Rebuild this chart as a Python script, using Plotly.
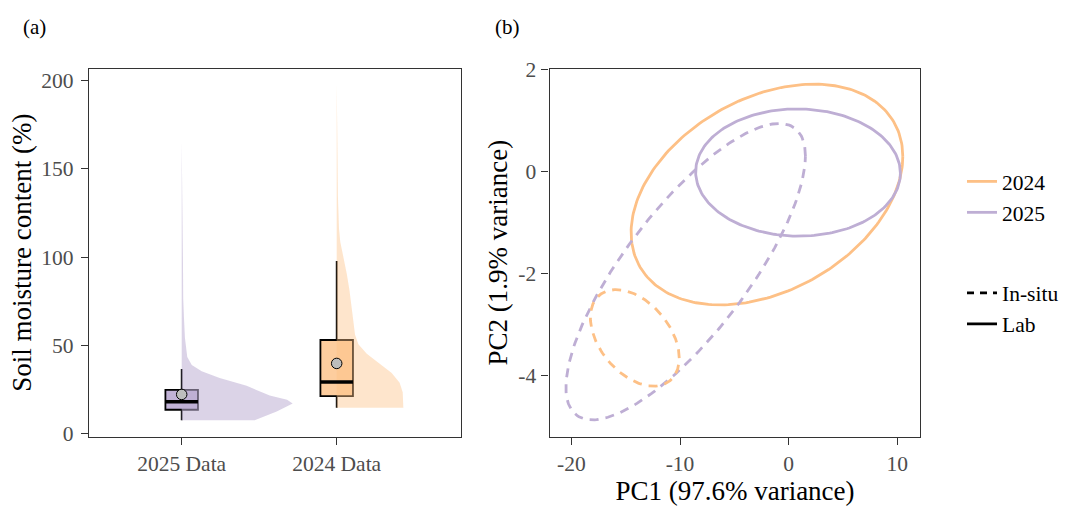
import numpy as np
import plotly.graph_objects as go

# ---------------- Panel (a): soil moisture raincloud ----------------
groups = ["2025 Data", "2024 Data"]
group_pos = [1, 2]
box_fill = ["rgba(190,174,212,0.95)", "rgba(253,192,134,0.8)"]
violin_fill = ["rgba(190,174,212,0.55)", "rgba(253,192,134,0.42)"]
box_q1 = [13.3, 21.1]
box_median = [17.8, 29.0]
box_q3 = [24.6, 52.9]
whisker_low = [7.3, 14.5]
whisker_high = [36.5, 97.8]
group_mean = [22.0, 39.6]

# half-violin outlines (moisture value, half width in x-axis units)
violin25_y = [7.3, 12.3, 15.0, 16.9, 19.0, 21.4, 26.9, 31.4, 35.1, 38.7, 43.3, 54, 65, 76, 100, 130, 166]
violin25_w = [0.471, 0.613, 0.68, 0.716, 0.68, 0.568, 0.419, 0.245, 0.129, 0.065, 0.036, 0.021, 0.015, 0.010, 0.008, 0.005, 0.002]
violin24_y = [14.5, 23.2, 28.7, 34.2, 39.6, 45.1, 50.5, 56, 63.3, 72.3, 81.4, 90.5, 99.6, 108.7, 116, 134, 170, 198.7]
violin24_w = [0.430, 0.426, 0.406, 0.355, 0.277, 0.194, 0.140, 0.118, 0.108, 0.097, 0.082, 0.065, 0.043, 0.023, 0.015, 0.008, 0.004, 0.001]

a_yticks = [0, 50, 100, 150, 200]

# ---------------- Panel (b): PCA confidence ellipses ----------------
ellipse_year = ["2024", "2025", "2025", "2024"]
ellipse_method = ["Lab", "Lab", "In-situ", "In-situ"]
ellipse_cx = [-2.0, 0.86, -9.48, -14.16]
ellipse_cy = [-0.45, -0.02, -1.96, -3.255]
ellipse_sx = [12.5, 9.42, 11.02, 4.09]
ellipse_sy = [2.16, 1.245, 2.9, 0.945]
ellipse_rho = [0.345, -0.01, 0.78, -0.42]

year_colors = {"2024": "#fdc086", "2025": "#beaed4"}
method_dash = {"In-situ": "9px,7px", "Lab": "solid"}

b_xticks = [-20, -10, 0, 10]
b_xticklabels = ["-20", "-10", "0", "10"]
b_yticks = [-4, -2, 0, 2]
b_yticklabels = ["-4", "-2", "0", "2"]

FONT = "Liberation Serif"
W, H = 1070, 513
TICK_SIZE = 21.5
TITLE_SIZE = 27

fig = go.Figure()

# violins
violins = [(violin25_y, violin25_w), (violin24_y, violin24_w)]
for i, (vy, vw) in enumerate(violins):
    p = group_pos[i]
    xs = [p] + [p + w for w in vw] + [p]
    ys = [vy[0]] + list(vy) + [vy[-1]]
    fig.add_trace(go.Scatter(x=xs, y=ys, mode="lines", fill="toself",
                             fillcolor=violin_fill[i], line=dict(width=0),
                             hoverinfo="skip", showlegend=False,
                             xaxis="x", yaxis="y"))

box_width = 0.21
for i in range(2):
    fig.add_trace(go.Box(x=[group_pos[i]], q1=[box_q1[i]], median=[box_median[i]],
                         q3=[box_q3[i]], lowerfence=[whisker_low[i]],
                         upperfence=[whisker_high[i]], width=box_width,
                         whiskerwidth=0, fillcolor=box_fill[i],
                         line=dict(color="black", width=1.8),
                         boxpoints=False, showlegend=False, name=groups[i],
                         xaxis="x", yaxis="y"))
    fig.add_trace(go.Scatter(x=[group_pos[i] - box_width / 2, group_pos[i] + box_width / 2],
                             y=[box_median[i], box_median[i]], mode="lines",
                             line=dict(color="black", width=3.5), showlegend=False,
                             hoverinfo="skip", xaxis="x", yaxis="y"))
fig.add_trace(go.Scatter(x=group_pos, y=group_mean, mode="markers",
                         marker=dict(size=10.5, color="#bdbdbd", line=dict(color="black", width=1)),
                         showlegend=False, xaxis="x", yaxis="y"))

# ellipses
t = np.linspace(0, 2 * np.pi, 241)
for i in range(len(ellipse_cx)):
    d = np.arccos(ellipse_rho[i])
    ex = ellipse_cx[i] + ellipse_sx[i] * np.cos(t)
    ey = ellipse_cy[i] + ellipse_sy[i] * np.cos(t - d)
    fig.add_trace(go.Scatter(x=ex, y=ey, mode="lines",
                             line=dict(color=year_colors[ellipse_year[i]], width=2.8,
                                       dash=method_dash[ellipse_method[i]]),
                             showlegend=False, xaxis="x2", yaxis="y2",
                             name=f"{ellipse_year[i]} {ellipse_method[i]}"))

# legend entries
for yr in ["2024", "2025"]:
    fig.add_trace(go.Scatter(x=[None], y=[None], mode="lines", name=yr,
                             line=dict(color=year_colors[yr], width=2.8),
                             legend="legend", xaxis="x2", yaxis="y2"))
for m in ["In-situ", "Lab"]:
    fig.add_trace(go.Scatter(x=[None], y=[None], mode="lines", name=m,
                             line=dict(color="black", width=2.8,
                                       dash="7px,6px" if m == "In-situ" else "solid"),
                             legend="legend2", xaxis="x2", yaxis="y2"))

ydom = [1 - 443 / H, 1 - 60 / H]
axis_common = dict(showline=True, mirror=True, linecolor="#333333", linewidth=1.3,
                   ticks="outside", ticklen=7, tickwidth=1.4, tickcolor="#333333",
                   showgrid=False, zeroline=False,
                   tickfont=dict(family=FONT, size=TICK_SIZE, color="#4d4d4d"))
title_font = dict(family=FONT, size=TITLE_SIZE, color="black")

fig.update_layout(
    width=W, height=H, margin=dict(l=0, r=0, t=0, b=0),
    paper_bgcolor="white", plot_bgcolor="white",
    font=dict(family=FONT, size=20, color="black"),
    xaxis=dict(domain=[89 / W, 461 / W], range=[0.402, 2.802], tickvals=group_pos,
               ticktext=groups, anchor="y", **axis_common),
    yaxis=dict(domain=ydom, range=[-2.0, 206.9], tickvals=a_yticks, anchor="x",
               ticklabelstandoff=3,
               title=dict(text="Soil moisture content (%)", font=title_font, standoff=1),
               **axis_common),
    xaxis2=dict(domain=[549.6 / W, 920.4 / W], range=[-22.0, 12.12], tickvals=b_xticks,
                ticktext=b_xticklabels, anchor="y2",
                title=dict(text="PC1 (97.6% variance)", font=title_font, standoff=0),
                **axis_common),
    yaxis2=dict(domain=ydom, range=[-5.19, 2.013], tickvals=b_yticks, ticktext=b_yticklabels,
                anchor="x2", ticklabelstandoff=1,
                title=dict(text="PC2 (1.9% variance)", font=title_font, standoff=2),
                **axis_common),
    legend=dict(x=962 / W, y=1 - 156 / H, xanchor="left", yanchor="top",
                font=dict(family=FONT, size=TICK_SIZE, color="black"), bgcolor="rgba(0,0,0,0)"),
    legend2=dict(x=962 / W, y=1 - 272 / H, xanchor="left", yanchor="top",
                 font=dict(family=FONT, size=TICK_SIZE, color="black"), bgcolor="rgba(0,0,0,0)"),
    annotations=[
        dict(text="(a)", x=34 / W, y=1 - 17 / H, xref="paper", yref="paper",
             xanchor="center", yanchor="middle",
             showarrow=False, font=dict(family=FONT, size=21, color="black")),
        dict(text="(b)", x=507 / W, y=1 - 17 / H, xref="paper", yref="paper",
             xanchor="center", yanchor="middle",
             showarrow=False, font=dict(family=FONT, size=21, color="black")),
    ],
)

fig.write_html("out.html")
